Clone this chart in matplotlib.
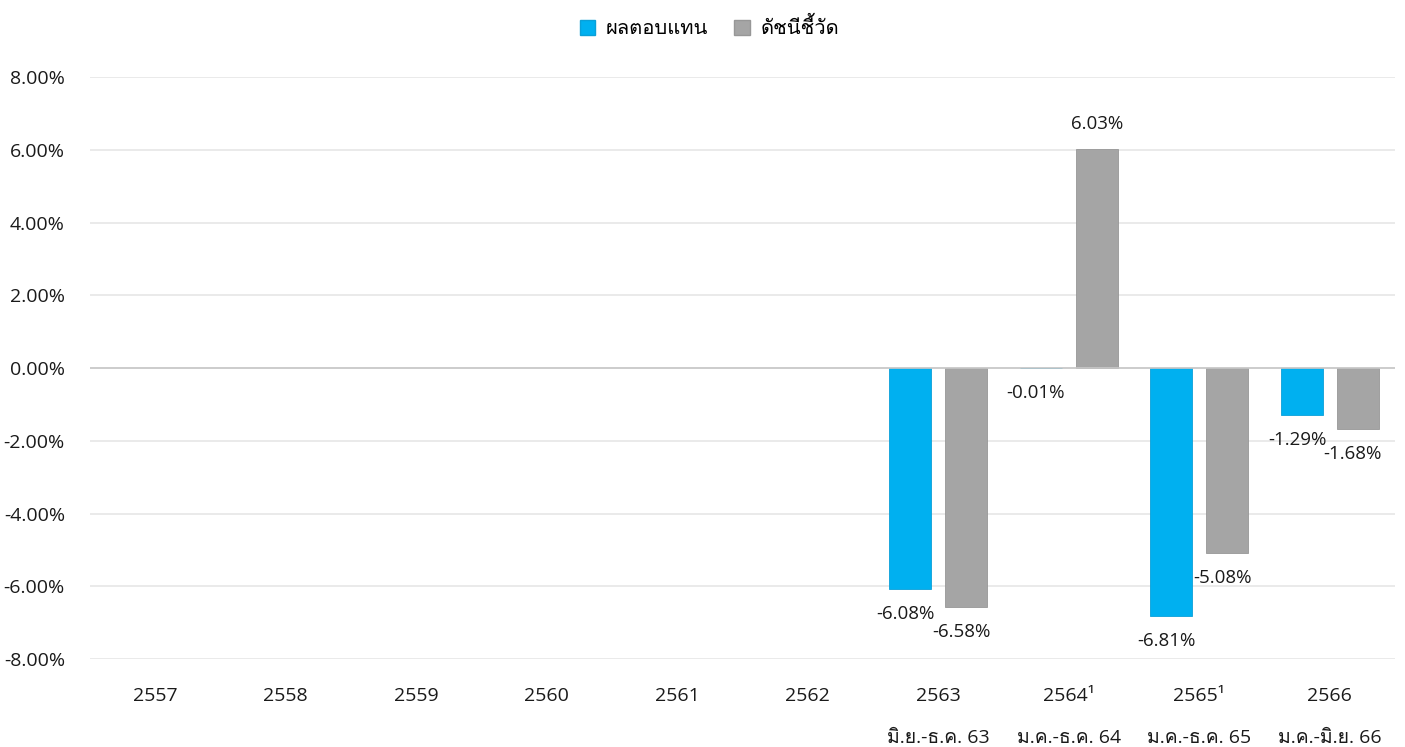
import numpy as np
import matplotlib
matplotlib.use('Agg')
import matplotlib.pyplot as plt
from matplotlib import font_manager
from matplotlib.patches import Patch

# data
years = ['2557', '2558', '2559', '2560', '2561', '2562', '2563', '2564¹', '2565¹', '2566']
periods = ['', '', '', '', '', '', 'มิ.ย.-ธ.ค. 63', 'ม.ค.-ธ.ค. 64', 'ม.ค.-ธ.ค. 65', 'ม.ค.-มิ.ย. 66']
fund_return = [None, None, None, None, None, None, -6.08, -0.01, -6.81, -1.29]
benchmark = [None, None, None, None, None, None, -6.58, 6.03, -5.08, -1.68]
series_names = ['ผลตอบแทน', 'ดัชนีชี้วัด']
yticks = [-8, -6, -4, -2, 0, 2, 4, 6, 8]


# look for an installed font that can draw Thai
def find_thai_font():
    try:
        from fontTools.ttLib import TTFont
    except ImportError:
        return None
    for path in sorted(font_manager.findSystemFonts()):
        try:
            f = TTFont(path, fontNumber=0, lazy=True)
            cmap = f.getBestCmap()
            if cmap and 0x0E1C in cmap and 0x0E32 in cmap:
                font_manager.fontManager.addfont(path)
                return font_manager.FontProperties(fname=path).get_name()
        except Exception:
            continue
    return None


thai = find_thai_font()
families = ['Open Sans', 'DejaVu Sans']
if thai:
    families = ['Open Sans', thai, 'DejaVu Sans']
plt.rcParams['font.family'] = families

blue = '#00B0F0'
gray = '#A5A5A5'
txt = '#1a1a1a'

fig = plt.figure(figsize=(14.05, 7.47), dpi=100)
ax = fig.add_axes([0.064, 0.1178, 0.9289, 0.7791])

x = np.arange(len(years))
w = 0.32
off = 0.214

fr = np.array([np.nan if v is None else v for v in fund_return])
bm = np.array([np.nan if v is None else v for v in benchmark])
has_fr = ~np.isnan(fr)
has_bm = ~np.isnan(bm)

ax.bar(x[has_fr] - off, fr[has_fr], w, color=blue, edgecolor='#0aa0d8', linewidth=0.6, zorder=3)
ax.bar(x[has_bm] + off, bm[has_bm], w, color=gray, edgecolor='#979797', linewidth=0.6, zorder=3)

# value labels
for xs, vals in ((x - off, fr), (x + off, bm)):
    for xi, v in zip(xs, vals):
        if np.isnan(v):
            continue
        dy = 18 if v > 0 else -18
        dx = 0 if v > 0 else -3.5
        ax.annotate('%.2f%%' % v, (xi, v), xytext=(dx, dy), textcoords='offset points',
                    ha='center', va='center', fontsize=13.5, color=txt)

ax.set_xlim(-0.5, len(years) - 0.5)
ax.set_ylim(-8, 8)
ax.set_yticks(yticks)
ax.set_yticklabels(['%.2f%%' % t for t in yticks], fontsize=14, color=txt)
ax.yaxis.grid(True, color='#e6e6e6', linewidth=1.2, zorder=0)
ax.axhline(0, color='#c8c8c8', linewidth=1.2, zorder=4)
ax.tick_params(axis='y', length=0, pad=18)
ax.tick_params(axis='x', length=0, pad=20)
for s in ax.spines.values():
    s.set_visible(False)

ax.set_xticks(x)
ax.set_xticklabels([y + '\n' + p for y, p in zip(years, periods)], fontsize=14,
                   color=txt, linespacing=2.7, va='top')

handles = [Patch(facecolor=blue, edgecolor='#0aa0d8'), Patch(facecolor=gray, edgecolor='#979797')]
fig.legend(handles, series_names, loc='upper center', bbox_to_anchor=(0.505, 1.0), ncol=2,
           frameon=False, fontsize=14.5, handlelength=0.75, handleheight=0.75,
           handletextpad=0.55, columnspacing=1.3)

fig.savefig('out.png', dpi=100)
